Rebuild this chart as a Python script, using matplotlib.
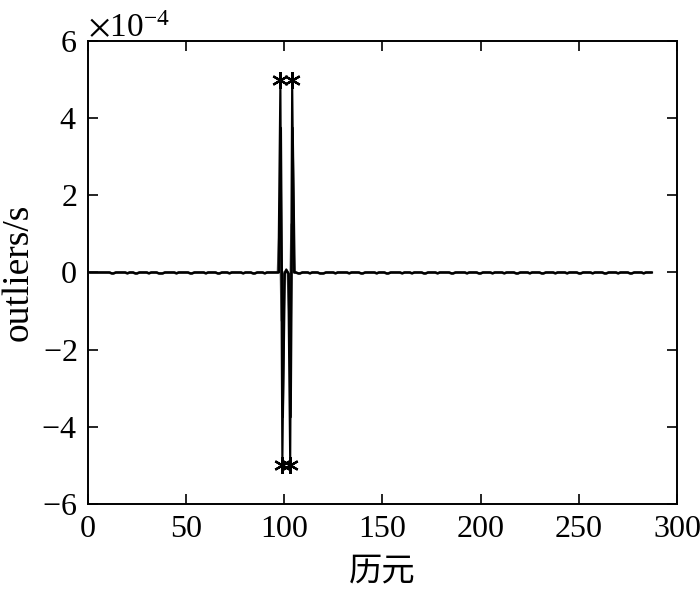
import numpy as np
import matplotlib

matplotlib.use("Agg")
import matplotlib.pyplot as plt
from matplotlib.ticker import ScalarFormatter

plt.rcParams["font.family"] = ["Liberation Serif", "Noto Sans CJK SC"]
plt.rcParams["mathtext.fontset"] = "stix"

# epochs 1..287, outlier series (values in 1/s)
n_epochs = 287
dip_epochs = [12, 13, 20, 24, 25, 31, 36, 37, 38, 45, 52, 53, 60, 66, 67, 72, 79, 84, 85, 90,
              107, 108, 113, 118, 119, 120, 126, 133, 139, 140, 147, 152, 153, 160, 165, 171,
              172, 178, 185, 186, 193, 199, 200, 206, 212, 218, 219, 225, 231, 232, 238, 244,
              250, 251, 257, 263, 264, 270, 276, 277, 283]
dip_value = -0.025e-4
spike_epochs = [98, 99, 100, 101, 102, 103, 104]
spike_main = [5.0e-4, -5.0e-4, -0.03e-4, 0.08e-4, -0.03e-4, -5.0e-4, 5.0e-4]
spike_mid = [3.75e-4, -3.75e-4, -0.03e-4, 0.05e-4, -0.03e-4, -3.75e-4, 3.75e-4]
spike_small = [1.25e-4, -1.25e-4, 0.0, 0.03e-4, 0.0, -1.25e-4, 1.25e-4]
outlier_epochs = [98, 99, 103, 104]
outlier_values = [5.0e-4, -5.0e-4, -5.0e-4, 5.0e-4]


def build_series(spike_vals):
    y = np.zeros(n_epochs)
    for e in dip_epochs:
        y[e - 1] = dip_value
    for e, v in zip(spike_epochs, spike_vals):
        y[e - 1] = v
    return y


epochs = np.arange(1, n_epochs + 1)

fig = plt.figure(figsize=(7.0, 5.9), dpi=100)
ax = fig.add_axes([0.1257, 0.1458, 0.8414, 0.7847])

# small series drawn a touch to the left, mid series a touch to the right, as in the figure
ax.plot(epochs - 0.4, build_series(spike_small), color="#808080", lw=1.5)
ax.plot(epochs + 0.3, build_series(spike_mid), color="black", lw=1.5)
ax.plot(epochs, build_series(spike_main), color="black", lw=1.5)
ax.plot(outlier_epochs, outlier_values, ls="none", marker=(6, 2, 0), ms=12,
        mec="black", mew=1.6)

ax.set_xlim(0, 300)
ax.set_ylim(-6e-4, 6e-4)
ax.set_xticks(np.arange(0, 301, 50))
ax.set_yticks(np.arange(-6e-4, 6.1e-4, 2e-4))
fmt = ScalarFormatter(useMathText=True)
fmt.set_powerlimits((-3, 3))
ax.yaxis.set_major_formatter(fmt)
ax.yaxis.get_offset_text().set_fontsize(24)

ax.tick_params(direction="in", length=7, width=1.2, labelsize=23, top=True, right=True, pad=8)
for s in ax.spines.values():
    s.set_linewidth(1.4)

ax.set_xlabel("历元", fontsize=24, labelpad=9)
ax.set_ylabel("outliers/s", fontsize=27, labelpad=4)

fig.savefig("out.png")
